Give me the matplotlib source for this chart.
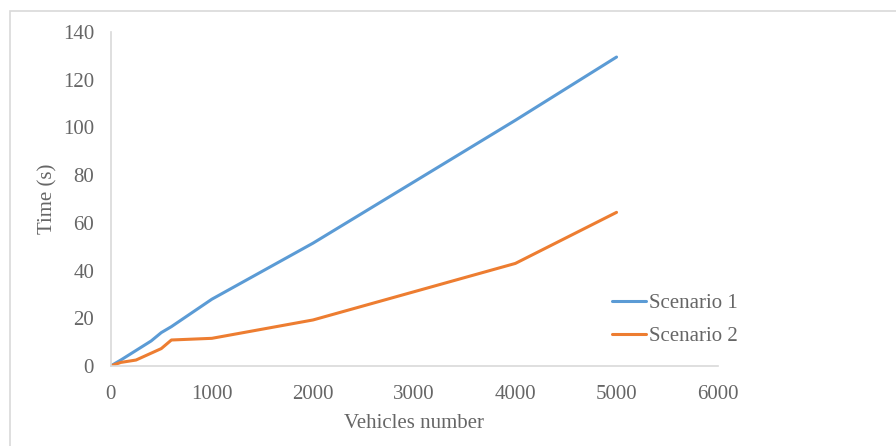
import matplotlib
matplotlib.use('Agg')
import matplotlib.pyplot as plt
from matplotlib.patches import Rectangle

# data
vehicles_s1 = [0, 100, 250, 400, 500, 600, 1000, 2000, 4000, 5000]
time_s1 = [0, 2.5, 6.5, 10.5, 14, 16.5, 28, 51.5, 103, 129.5]
vehicles_s2 = [0, 100, 250, 500, 600, 1000, 2000, 4000, 5000]
time_s2 = [0, 1.5, 2.5, 7.3, 10.9, 11.6, 19.3, 43.0, 64.4]
series_names = ['Scenario 1', 'Scenario 2']

plt.rcParams['font.family'] = ['Liberation Serif', 'DejaVu Serif']
text_color = '#666666'
axis_color = '#d9d9d9'

fig = plt.figure(figsize=(8.96, 4.46), dpi=100)
# chart-area border (only top and left edges are inside the image)
fig.patches.append(Rectangle((10 / 896, -0.5), 2, 1.5 - 11 / 446, transform=fig.transFigure,
                             fill=False, edgecolor=axis_color, linewidth=1.2))

ax = fig.add_axes([110.7 / 896, 1 - 366 / 446, (717.7 - 110.7) / 896, (366 - 32) / 446])
ax.plot(vehicles_s1, time_s1, color='#5B9BD5', linewidth=2.2, label=series_names[0],
        solid_joinstyle='round', solid_capstyle='round')
ax.plot(vehicles_s2, time_s2, color='#ED7D31', linewidth=2.2, label=series_names[1],
        solid_joinstyle='round', solid_capstyle='round')

ax.set_xlim(0, 6000)
ax.set_ylim(0, 140)
ax.set_xticks(range(0, 6001, 1000))
ax.set_yticks(range(0, 141, 20))
ax.tick_params(length=0, labelsize=15, labelcolor=text_color, pad=12)
ax.tick_params(axis='x', pad=14)

for side in ['top', 'right']:
    ax.spines[side].set_visible(False)
for side in ['left', 'bottom']:
    ax.spines[side].set_color(axis_color)
    ax.spines[side].set_linewidth(1.2)

ax.set_xlabel('Vehicles number', fontsize=15, color=text_color, labelpad=7)
ax.set_ylabel('Time (s)', fontsize=15, color=text_color, labelpad=4)

ax.legend(loc='center left', bbox_to_anchor=(604 / 896, 1 - 320 / 446), bbox_transform=fig.transFigure,
          frameon=False, fontsize=15, labelcolor=text_color, handlelength=1.6, handletextpad=0.15,
          labelspacing=0.65, borderaxespad=0)

fig.savefig('out.png', dpi=100)
